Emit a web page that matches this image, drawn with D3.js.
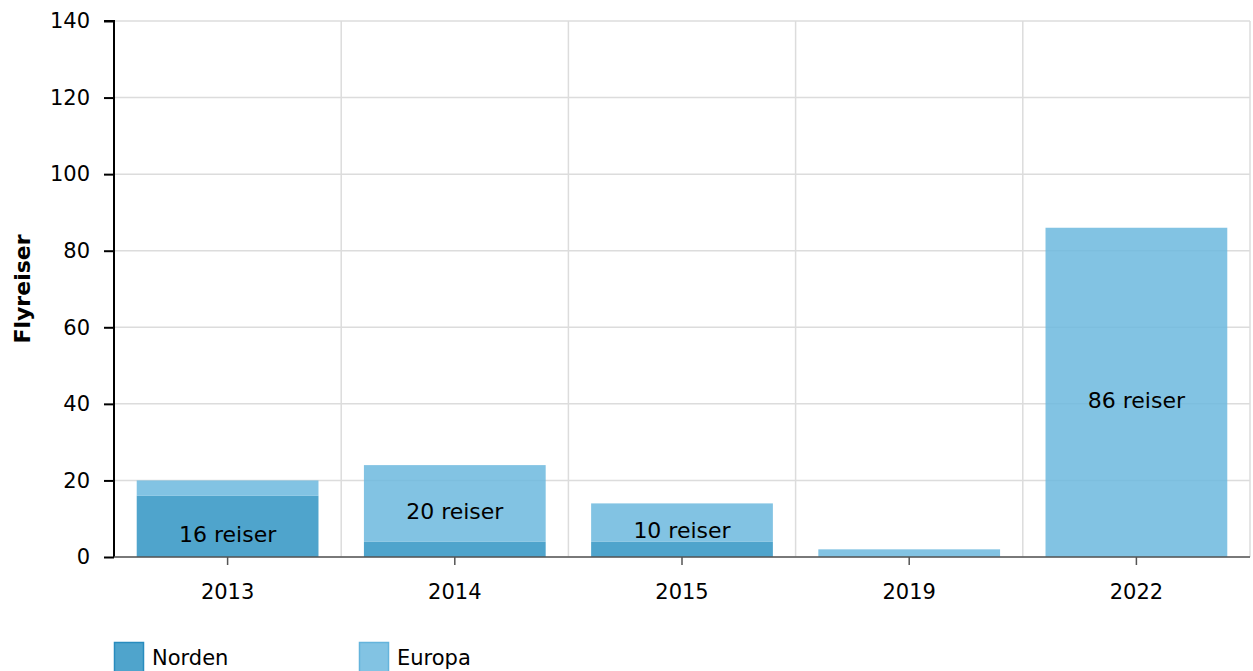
<!DOCTYPE html>
<html><head><meta charset="utf-8">
<script src="https://cdn.jsdelivr.net/npm/d3@7"></script>
<style>body{margin:0;background:#fff}svg{display:block;font-family:Verdana,"DejaVu Sans",sans-serif}</style>
</head><body><svg id="c" width="1253" height="671"></svg>
<script>
const years = ["2013","2014","2015","2019","2022"];
const norden = [16, 4, 4, 0, 0];
const europa = [4, 20, 10, 2, 86];
const labels = [["16 reiser","norden"],["20 reiser","europa"],["10 reiser","europa"],[null,null],["86 reiser","europa"]];
const yTicks = [0,20,40,60,80,100,120,140];
const seriesNames = ["Norden","Europa"];

const svg = d3.select("#c");
const m = {l:114, r:1250, t:21, b:557};
const x = d3.scaleBand().domain(years).range([m.l, m.r]).paddingInner(0).paddingOuter(0);
const y = d3.scaleLinear().domain([0,140]).range([m.b, m.t]);
const barW = x.bandwidth()*0.8;
const colN = "rgb(48,148,195)", colE = "rgb(108,184,222)", op = 0.85;
const FF = 'Verdana,"DejaVu Sans",sans-serif';

// grid
svg.append("g").selectAll("line").data(yTicks).join("line")
  .attr("x1", m.l).attr("x2", m.r).attr("y1", d=>y(d)).attr("y2", d=>y(d))
  .attr("stroke","#dcdcdc").attr("stroke-width",1.5);
svg.append("g").selectAll("line").data(years.slice(1).concat(["end"])).join("line")
  .attr("x1", (d,i)=> i<years.length-1 ? x(d) : m.r).attr("x2",(d,i)=> i<years.length-1 ? x(d) : m.r)
  .attr("y1", m.t).attr("y2", m.b).attr("stroke","#dcdcdc").attr("stroke-width",1.5);

const data = years.map((yr,i)=>({yr, n:norden[i], e:europa[i], lab:labels[i]}));
const g = svg.append("g");
g.selectAll("rect.n").data(data.filter(d=>d.n>0)).join("rect")
  .attr("x", d=>x(d.yr)+(x.bandwidth()-barW)/2).attr("width", barW)
  .attr("y", d=>y(d.n)).attr("height", d=>y(0)-y(d.n)).attr("fill",colN).attr("fill-opacity",op);
g.selectAll("rect.e").data(data.filter(d=>d.e>0)).join("rect")
  .attr("x", d=>x(d.yr)+(x.bandwidth()-barW)/2).attr("width", barW)
  .attr("y", d=>y(d.n+d.e)).attr("height", d=>y(d.n)-y(d.n+d.e)).attr("fill",colE).attr("fill-opacity",op);

g.selectAll("text.lab").data(data.filter(d=>d.lab[0])).join("text")
  .attr("x", d=>x(d.yr)+x.bandwidth()/2)
  .attr("y", d=> d.lab[1]==="norden" ? (y(0)+y(d.n))/2+8 : (y(d.n)+y(d.n+d.e))/2+8)
  .attr("text-anchor","middle").attr("dominant-baseline","central")
  .attr("font-size",22).attr("fill","#000").text(d=>d.lab[0]);

// axes
const ya = svg.append("g").attr("transform",`translate(${m.l},0)`)
  .call(d3.axisLeft(y).tickValues(yTicks).tickSize(10).tickPadding(14));
ya.select(".domain").attr("stroke","#000").attr("stroke-width",2).attr("d",`M-10,${m.t}H0V${m.b}`);
ya.selectAll(".tick line").attr("stroke","#000").attr("stroke-width",2);
ya.selectAll("text").attr("font-size",21).attr("font-family",FF).attr("fill","#000");

const xa = svg.append("g").attr("transform",`translate(0,${m.b})`)
  .call(d3.axisBottom(x).tickSize(8).tickPadding(19));
xa.select(".domain").attr("stroke","#555").attr("stroke-width",1.5).attr("d",`M${m.l},0H${m.r}`);
xa.selectAll(".tick line").attr("stroke","#555").attr("stroke-width",1.5);
xa.selectAll("text").attr("font-size",21).attr("font-family",FF).attr("fill","#000");

svg.append("text").attr("transform",`translate(30,${(m.t+m.b)/2}) rotate(-90)`)
  .attr("text-anchor","middle").attr("font-size",22).attr("font-weight","bold").text("Flyreiser");

// legend
const legX = [114, 359];
const legC = [colN, colE], legS = ["rgb(40,140,190)","rgb(100,180,220)"];
const lg = svg.append("g").selectAll("g").data(seriesNames).join("g")
  .attr("transform",(d,i)=>`translate(${legX[i]},642)`);
lg.append("rect").attr("x",0.5).attr("y",0.5).attr("width",29).attr("height",30)
  .attr("fill",(d,i)=>legC[i]).attr("fill-opacity",op).attr("stroke",(d,i)=>legS[i]).attr("stroke-width",1.5);
lg.append("text").attr("x",38).attr("y",23).attr("font-size",21).text(d=>d);
</script></body></html>
